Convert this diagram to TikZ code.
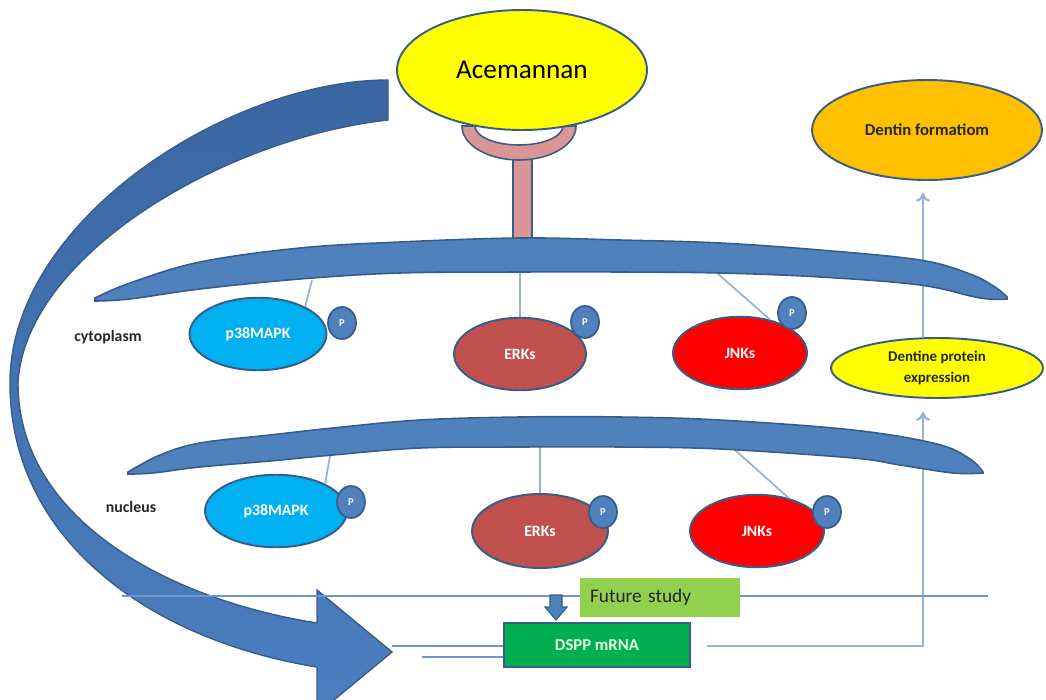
\documentclass[tikz,border=0pt]{standalone}
\usepackage{fontspec}
\setmainfont{Carlito}
\usetikzlibrary{shapes.geometric,arrows.meta}
\definecolor{memb}{HTML}{4F81BD}
\definecolor{membline}{HTML}{385D8A}
\definecolor{conn}{HTML}{95B3D7}
\definecolor{hline}{HTML}{7096CC}
\definecolor{p38col}{HTML}{00B0F0}
\definecolor{erkcol}{HTML}{C0504D}
\definecolor{jnkcol}{HTML}{FF0000}
\definecolor{acey}{HTML}{FFFF00}
\definecolor{orangec}{HTML}{FFC000}
\definecolor{recep}{HTML}{D99694}
\definecolor{fut}{HTML}{92D050}
\definecolor{dsppc}{HTML}{00B050}
\definecolor{arrtop}{HTML}{3A67A3}
\definecolor{arrbot}{HTML}{4C7FC0}
\definecolor{txtdark}{HTML}{262626}
\tikzset{
  oval/.style={ellipse, draw=membline, line width=1.1pt, inner sep=0pt},
  kin/.style={oval, text=white, font=\bfseries\fontsize{9}{10}\selectfont,
              minimum width=2.74cm, minimum height=1.45cm},
  pdot/.style={ellipse, draw=membline, line width=1pt, fill=memb, inner sep=0pt,
               minimum width=0.56cm, minimum height=0.64cm, text=white,
               font=\bfseries\fontsize{6}{7}\selectfont},
  conline/.style={draw=conn, line width=1pt},
  hl/.style={draw=hline, line width=0.9pt},
  upar/.style={draw=conn, line width=1.3pt, -{To[length=5pt,width=8pt]}},
  lbl/.style={font=\bfseries\fontsize{9}{10}\selectfont, text=txtdark},
  membrane/.style={fill=memb, draw=membline, line width=0.9pt}
}
\begin{document}
\begin{tikzpicture}[x=0.02cm,y=-0.02cm]
\useasboundingbox (0,0) rectangle (1046,700);

% ---------- membrane attachment points ----------
\coordinate (mc1) at (312,280);
\coordinate (mc2) at (520,272);
\coordinate (mc3) at (717,273);
\coordinate (mn1) at (330,456);
\coordinate (mn2) at (540,447);
\coordinate (mn3) at (735,450);

% ---------- receptor stem ----------
\filldraw[fill=recep, draw=membline, line width=0.9pt] (513,150) rectangle (532,242);

% ---------- kinases ----------
\node[kin, fill=p38col] (p38c) at (258,334) {p38MAPK};
\node[kin, fill=erkcol, minimum width=2.64cm] (erkc) at (520,354) {ERKs};
\node[kin, fill=jnkcol, minimum width=2.68cm] (jnkc) at (740,353) {JNKs};
\node[kin, fill=p38col, minimum width=2.84cm] (p38n) at (276,511) {p38MAPK};
\node[kin, fill=erkcol, minimum width=2.72cm, minimum height=1.48cm] (erkn) at (540,531) {ERKs};
\node[kin, fill=jnkcol, minimum width=2.68cm] (jnkn) at (757,531) {JNKs};

\node[pdot] (pc1) at (342,323) {P};
\node[pdot] (pc2) at (585,322) {P};
\node[pdot] (pc3) at (792,313) {P};
\node[pdot] (pn1) at (351,502) {P};
\node[pdot] (pn2) at (603,512) {P};
\node[pdot] (pn3) at (827,512) {P};

% ---------- connectors membrane -> kinases ----------
\draw[conline] (mc1) -- (p38c.30);
\draw[conline] (mc2) -- (erkc.north);
\draw[conline] (mc3) -- (jnkc.48);
\draw[conline] (mn1) -- (p38n.29);
\draw[conline] (mn2) -- (erkn.north);
\draw[conline] (mn3) -- (jnkn.46);

% ---------- right-hand nodes ----------
\node[oval, fill=orangec, minimum width=4.6cm, minimum height=2cm,
      font=\bfseries\fontsize{9.5}{11}\selectfont, text=txtdark] (df) at (927,130) {Dentin formatiom};
\node[oval, fill=acey, minimum width=4.24cm, minimum height=1.2cm, align=center,
      font=\bfseries\fontsize{8.5}{11.5}\selectfont, text=txtdark] (dpe) at (937,368) {Dentine protein\\expression};

% ---------- boxes ----------
\node[draw=membline, line width=1pt, fill=dsppc, minimum width=3.72cm, minimum height=0.88cm,
      inner sep=0pt, text=green!10!white, font=\bfseries\fontsize{9.5}{11}\selectfont] (dspp) at (597,645) {DSPP mRNA};

% ---------- flow lines ----------
\coordinate (r1) at (707,646);
\coordinate (corner) at (923,646);
\draw[upar, shorten >=0.26cm] (r1) -- (corner) -- (corner |- dpe.south);
\draw[upar, shorten >=0.24cm] (corner |- dpe.north) -- (corner |- df.south);

% ---------- membranes ----------
\path[membrane] plot[smooth, tension=0.6] coordinates {(95,298) (130,283) (200,262) (300,248) (400,242) (520,238) (620,240) (720,243) (820,250) (920,260) (970,274) (995,287) (1007,297)}
  -- plot[smooth, tension=0.6] coordinates {(1007,299) (980,298) (920,285) (820,277) (720,273) (620,272) (520,272) (400,273) (300,279) (200,289) (130,299) (95,301)} -- cycle;
\path[membrane] plot[smooth, tension=0.6] coordinates {(128,472) (160,455) (200,443) (270,435) (333,428) (420,420) (520,417) (620,417) (720,420) (853,430) (937,444) (970,459) (983,472)}
  -- plot[smooth, tension=0.6] coordinates {(983,473) (953,473) (900,465) (853,458) (720,449) (620,447) (520,447) (420,448) (333,455) (270,461) (200,467) (153,473) (128,474)} -- cycle;

% ---------- receptor cup and Acemannan ----------
\filldraw[fill=recep, draw=membline, line width=0.9pt]
  (462,126) arc[start angle=180, end angle=0, x radius=57, y radius=34]
  -- (563,126) arc[start angle=0, end angle=180, x radius=44, y radius=19] -- cycle;
\node[oval, fill=acey, minimum width=5cm, minimum height=2.4cm,
      font=\fontsize{15.5}{18}\selectfont] (ace) at (522,70) {Acemannan};

% ---------- big curved arrow ----------
\path[draw=membline, line width=0.8pt, top color=arrtop, bottom color=arrbot]
  (388,80) .. controls (230,80) and (10,220) .. (10,383)
  .. controls (10,540) and (150,640) .. (317,667)
  -- (317,714) -- (392,652) -- (317,590) -- (317,623)
  .. controls (170,600) and (18,520) .. (18,383)
  .. controls (25,255) and (225,138) .. (388,120)
  -- cycle;

% ---------- horizontal lines ----------
\coordinate (h1) at (122,596);
\coordinate (h2) at (988,596);
\draw[hl] (h1) -- (h2);
\coordinate (atip) at (392,646);
\draw[hl] (atip) -- (atip -| dspp.west);
\coordinate (l2) at (422,657);
\draw[hl] (l2) -- (l2 -| dspp.west);

% ---------- future study ----------
\node[fill=fut, minimum width=3.2cm, minimum height=0.78cm, inner xsep=0.2cm, inner ysep=0pt,
      text width=2.8cm, align=left, text=txtdark, font=\fontsize{11}{13}\selectfont] (fs) at (660,597) {Future study};
\filldraw[fill=memb, draw=membline, line width=0.7pt]
  (550,595) -- (562,595) -- (562,607) -- (567,607) -- (556,620) -- (545,607) -- (550,607) -- cycle;

% ---------- compartment labels ----------
\node[lbl] (cyto) at (108,337) {cytoplasm};
\node[lbl] (nuc) at (131,507) {nucleus};
\end{tikzpicture}
\end{document}
